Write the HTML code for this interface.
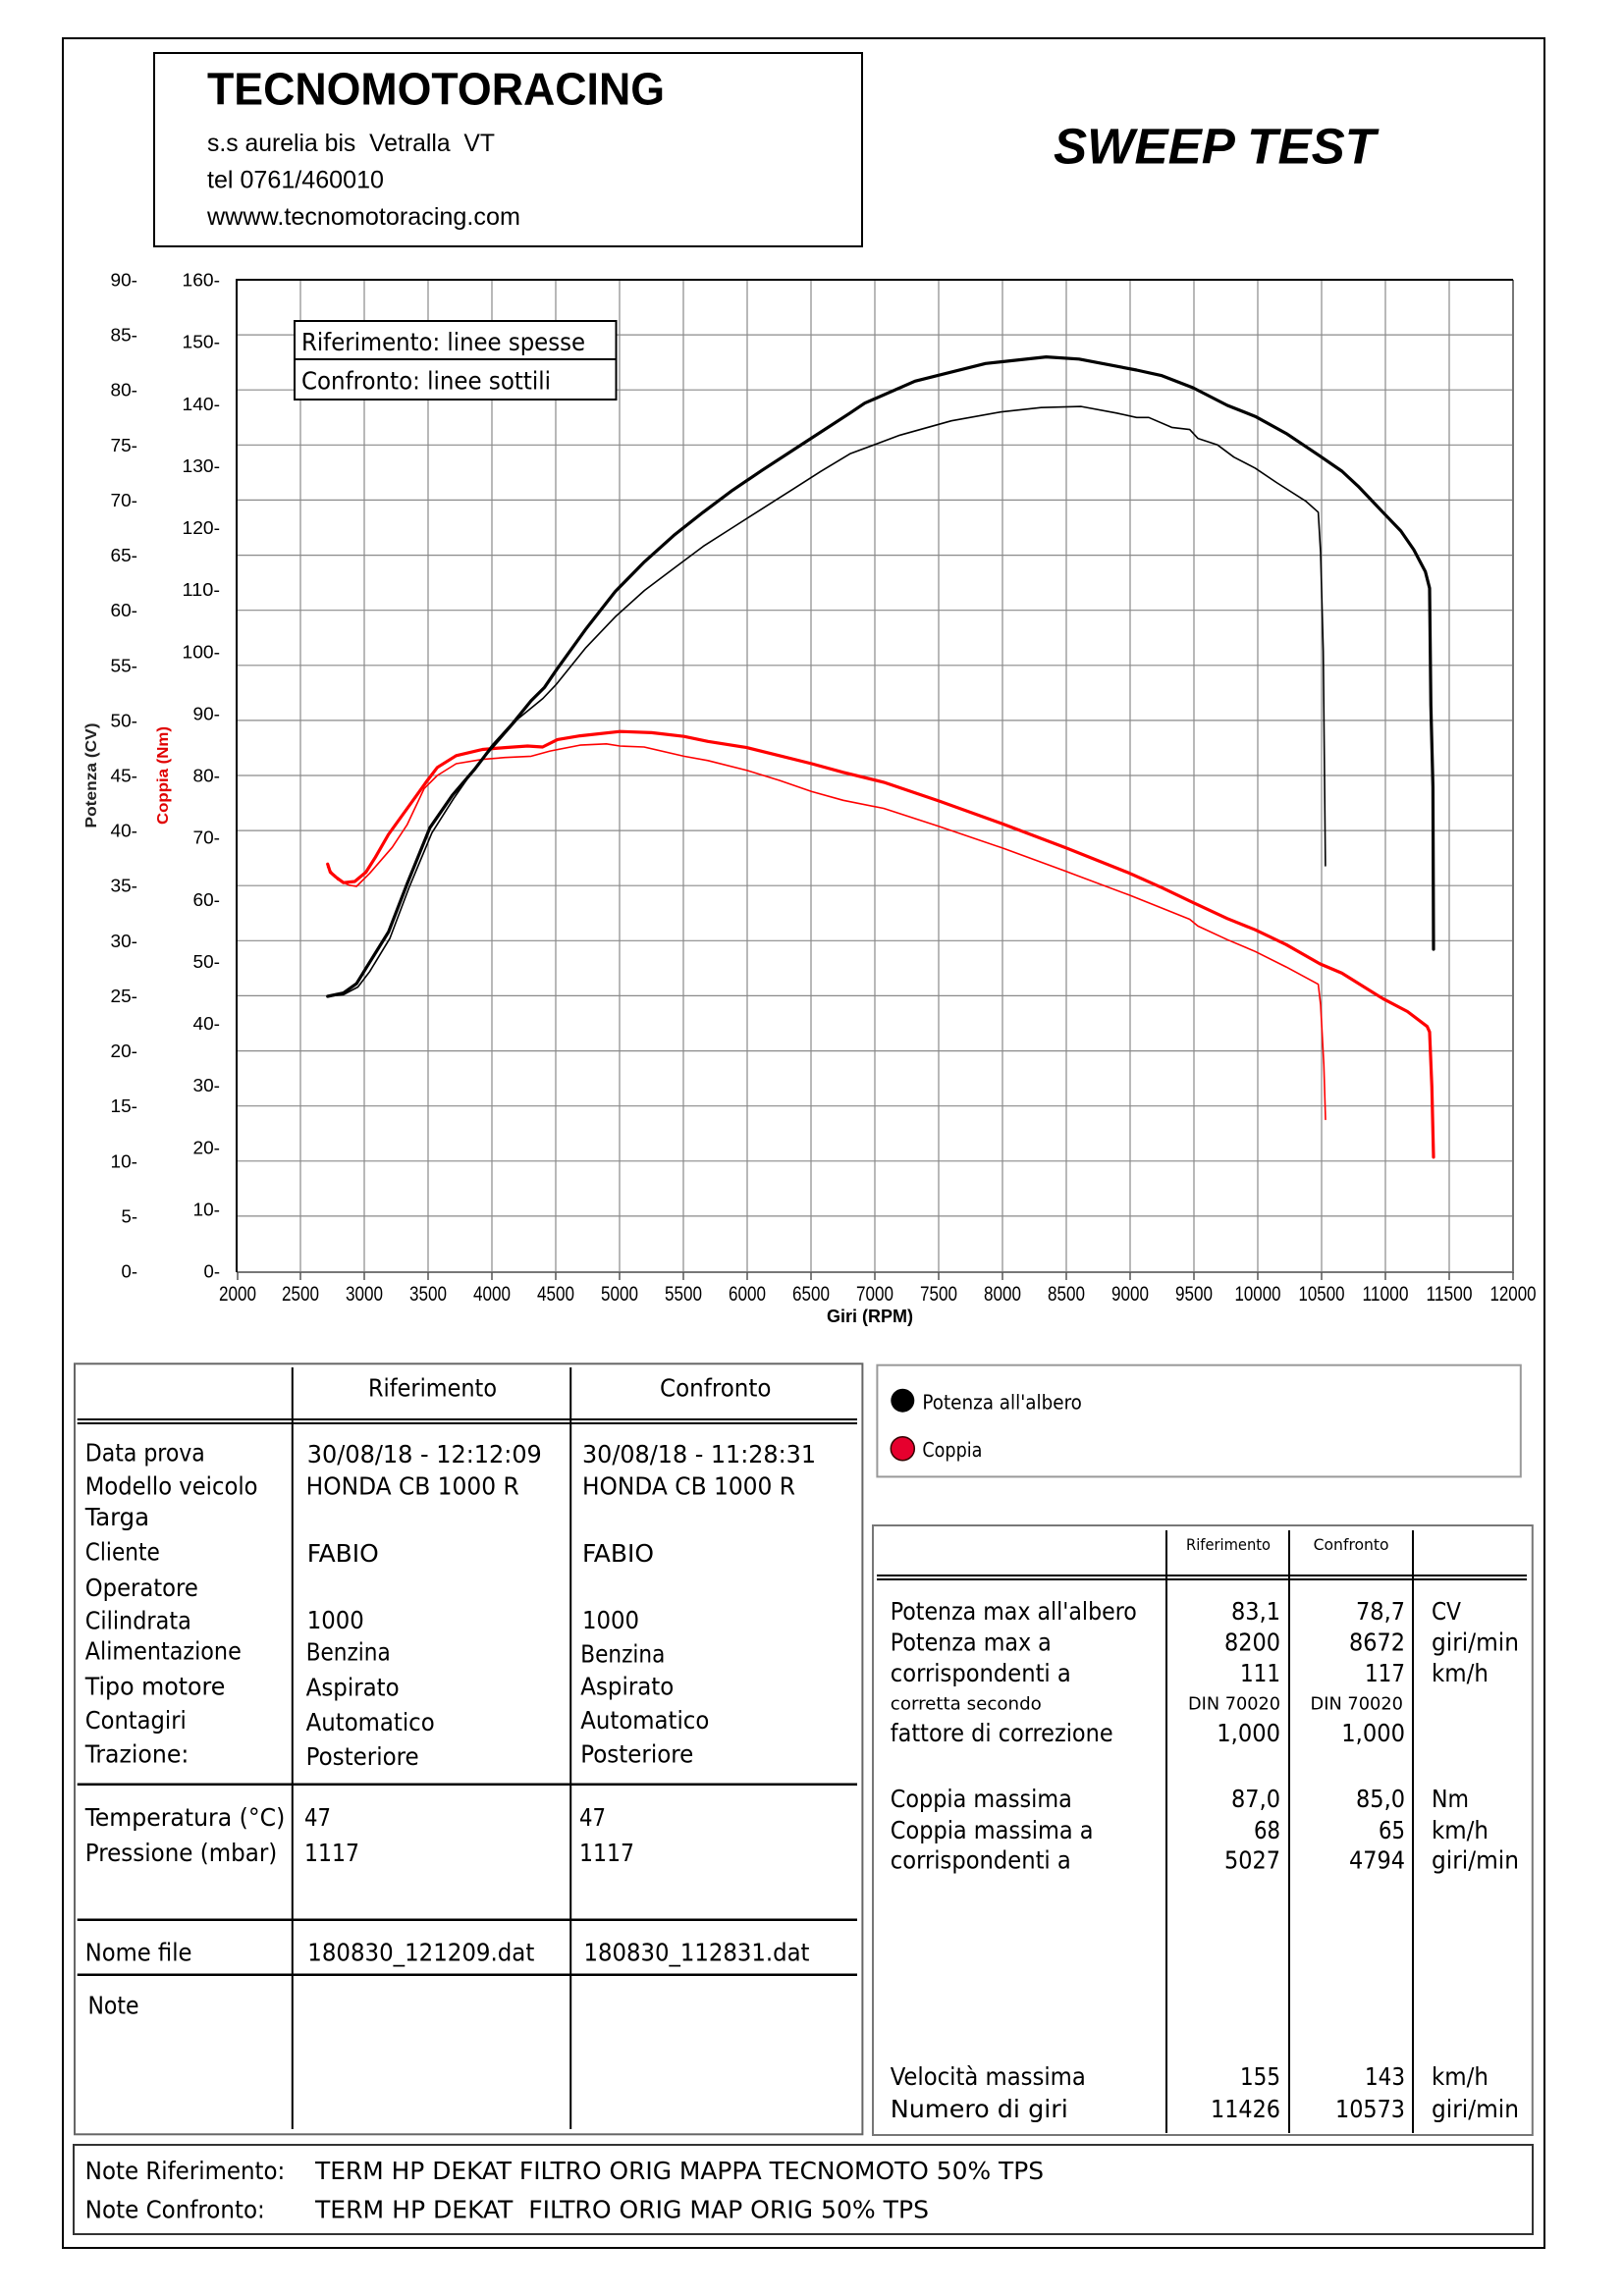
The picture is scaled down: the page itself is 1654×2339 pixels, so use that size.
<!DOCTYPE html>
<html>
<head>
<meta charset="utf-8">
<style>
html,body{margin:0;padding:0;background:#fff;}
svg{display:block;}
.hd{font-family:"Liberation Sans",sans-serif;}
.tb{font-family:"DejaVu Sans Condensed","DejaVu Sans","Liberation Sans",sans-serif;}
.ax{font-family:"Liberation Sans",sans-serif;font-size:18px;fill:#000;}
.xt{font-family:"Liberation Sans",sans-serif;font-size:21px;fill:#000;}
</style>
</head>
<body>
<svg width="1654" height="2339" viewBox="0 0 1654 2339" xmlns="http://www.w3.org/2000/svg">
<rect x="0" y="0" width="1654" height="2339" fill="#fff"/>
<!-- outer border -->
<rect x="64" y="39" width="1509" height="2251" fill="none" stroke="#000" stroke-width="2"/>
<!-- header box -->
<rect x="157" y="54" width="721" height="197" fill="none" stroke="#000" stroke-width="2"/>
<text class="hd" x="211" y="106.7" font-size="46" font-weight="bold" textLength="466" lengthAdjust="spacingAndGlyphs">TECNOMOTORACING</text>
<text class="hd" x="211" y="154" font-size="25" style="white-space:pre" textLength="293" lengthAdjust="spacingAndGlyphs">s.s aurelia bis  Vetralla  VT</text>
<text class="hd" x="211" y="191.7" font-size="25" textLength="180" lengthAdjust="spacingAndGlyphs">tel 0761/460010</text>
<text class="hd" x="211" y="229" font-size="25" textLength="319" lengthAdjust="spacingAndGlyphs">wwww.tecnomotoracing.com</text>
<text class="hd" x="1073" y="166.7" font-size="51" font-weight="bold" font-style="italic" textLength="328" lengthAdjust="spacingAndGlyphs">SWEEP TEST</text>

<!-- grid -->
<g stroke="#8a8a8a" stroke-width="1.2" fill="none">
<path d="M306 285V1295M371 285V1295M436 285V1295M501 285V1295M566 285V1295M631 285V1295M696 285V1295M761 285V1295M826 285V1295M891 285V1295M956 285V1295M1021 285V1295M1086 285V1295M1151 285V1295M1216 285V1295M1281 285V1295M1346 285V1295M1411 285V1295M1476 285V1295"/>
<path d="M241 1238.9H1541M241 1182.8H1541M241 1126.7H1541M241 1070.6H1541M241 1014.4H1541M241 958.3H1541M241 902.2H1541M241 846.1H1541M241 790H1541M241 733.9H1541M241 677.8H1541M241 621.7H1541M241 565.6H1541M241 509.4H1541M241 453.3H1541M241 397.2H1541M241 341.1H1541"/>
</g>
<!-- plot border -->
<path d="M1541 285V1296H241" fill="none" stroke="#777" stroke-width="2"/>
<path d="M241 1296V285H1541" fill="none" stroke="#000" stroke-width="2"/>
<!-- x ticks -->
<path stroke="#555" stroke-width="1.5" d="M242 1296v8M306 1296v8M371 1296v8M436 1296v8M501 1296v8M566 1296v8M631 1296v8M696 1296v8M761 1296v8M826 1296v8M891 1296v8M956 1296v8M1021 1296v8M1086 1296v8M1151 1296v8M1216 1296v8M1281 1296v8M1346 1296v8M1411 1296v8M1476 1296v8M1541 1296v8"/>
<g class="xt" text-anchor="middle">
<text x="242" y="1325" textLength="38" lengthAdjust="spacingAndGlyphs">2000</text>
<text x="306" y="1325" textLength="38" lengthAdjust="spacingAndGlyphs">2500</text>
<text x="371" y="1325" textLength="38" lengthAdjust="spacingAndGlyphs">3000</text>
<text x="436" y="1325" textLength="38" lengthAdjust="spacingAndGlyphs">3500</text>
<text x="501" y="1325" textLength="38" lengthAdjust="spacingAndGlyphs">4000</text>
<text x="566" y="1325" textLength="38" lengthAdjust="spacingAndGlyphs">4500</text>
<text x="631" y="1325" textLength="38" lengthAdjust="spacingAndGlyphs">5000</text>
<text x="696" y="1325" textLength="38" lengthAdjust="spacingAndGlyphs">5500</text>
<text x="761" y="1325" textLength="38" lengthAdjust="spacingAndGlyphs">6000</text>
<text x="826" y="1325" textLength="38" lengthAdjust="spacingAndGlyphs">6500</text>
<text x="891" y="1325" textLength="38" lengthAdjust="spacingAndGlyphs">7000</text>
<text x="956" y="1325" textLength="38" lengthAdjust="spacingAndGlyphs">7500</text>
<text x="1021" y="1325" textLength="38" lengthAdjust="spacingAndGlyphs">8000</text>
<text x="1086" y="1325" textLength="38" lengthAdjust="spacingAndGlyphs">8500</text>
<text x="1151" y="1325" textLength="38" lengthAdjust="spacingAndGlyphs">9000</text>
<text x="1216" y="1325" textLength="38" lengthAdjust="spacingAndGlyphs">9500</text>
<text x="1281" y="1325" textLength="47" lengthAdjust="spacingAndGlyphs">10000</text>
<text x="1346" y="1325" textLength="47" lengthAdjust="spacingAndGlyphs">10500</text>
<text x="1411" y="1325" textLength="47" lengthAdjust="spacingAndGlyphs">11000</text>
<text x="1476" y="1325" textLength="47" lengthAdjust="spacingAndGlyphs">11500</text>
<text x="1541" y="1325" textLength="47" lengthAdjust="spacingAndGlyphs">12000</text>
</g>
<text class="hd" x="842" y="1347" font-size="18" font-weight="bold" textLength="88" lengthAdjust="spacingAndGlyphs">Giri (RPM)</text>

<!-- CV labels -->
<g class="ax" text-anchor="end">
<text x="140" y="291.5" textLength="27.5" lengthAdjust="spacingAndGlyphs">90-</text>
<text x="140" y="347.6" textLength="27.5" lengthAdjust="spacingAndGlyphs">85-</text>
<text x="140" y="403.7" textLength="27.5" lengthAdjust="spacingAndGlyphs">80-</text>
<text x="140" y="459.8" textLength="27.5" lengthAdjust="spacingAndGlyphs">75-</text>
<text x="140" y="515.9" textLength="27.5" lengthAdjust="spacingAndGlyphs">70-</text>
<text x="140" y="572.1" textLength="27.5" lengthAdjust="spacingAndGlyphs">65-</text>
<text x="140" y="628.2" textLength="27.5" lengthAdjust="spacingAndGlyphs">60-</text>
<text x="140" y="684.3" textLength="27.5" lengthAdjust="spacingAndGlyphs">55-</text>
<text x="140" y="740.4" textLength="27.5" lengthAdjust="spacingAndGlyphs">50-</text>
<text x="140" y="796.5" textLength="27.5" lengthAdjust="spacingAndGlyphs">45-</text>
<text x="140" y="852.6" textLength="27.5" lengthAdjust="spacingAndGlyphs">40-</text>
<text x="140" y="908.7" textLength="27.5" lengthAdjust="spacingAndGlyphs">35-</text>
<text x="140" y="964.8" textLength="27.5" lengthAdjust="spacingAndGlyphs">30-</text>
<text x="140" y="1020.9" textLength="27.5" lengthAdjust="spacingAndGlyphs">25-</text>
<text x="140" y="1077.1" textLength="27.5" lengthAdjust="spacingAndGlyphs">20-</text>
<text x="140" y="1133.2" textLength="27.5" lengthAdjust="spacingAndGlyphs">15-</text>
<text x="140" y="1189.3" textLength="27.5" lengthAdjust="spacingAndGlyphs">10-</text>
<text x="140" y="1245.4" textLength="16.5" lengthAdjust="spacingAndGlyphs">5-</text>
<text x="140" y="1301.5" textLength="16.5" lengthAdjust="spacingAndGlyphs">0-</text>
</g>
<!-- Nm labels -->
<g class="ax" text-anchor="end">
<text x="224" y="291.5" textLength="38.5" lengthAdjust="spacingAndGlyphs">160-</text>
<text x="224" y="354.6" textLength="38.5" lengthAdjust="spacingAndGlyphs">150-</text>
<text x="224" y="417.8" textLength="38.5" lengthAdjust="spacingAndGlyphs">140-</text>
<text x="224" y="480.9" textLength="38.5" lengthAdjust="spacingAndGlyphs">130-</text>
<text x="224" y="544" textLength="38.5" lengthAdjust="spacingAndGlyphs">120-</text>
<text x="224" y="607.1" textLength="38.5" lengthAdjust="spacingAndGlyphs">110-</text>
<text x="224" y="670.3" textLength="38.5" lengthAdjust="spacingAndGlyphs">100-</text>
<text x="224" y="733.4" textLength="27.5" lengthAdjust="spacingAndGlyphs">90-</text>
<text x="224" y="796.5" textLength="27.5" lengthAdjust="spacingAndGlyphs">80-</text>
<text x="224" y="859.6" textLength="27.5" lengthAdjust="spacingAndGlyphs">70-</text>
<text x="224" y="922.8" textLength="27.5" lengthAdjust="spacingAndGlyphs">60-</text>
<text x="224" y="985.9" textLength="27.5" lengthAdjust="spacingAndGlyphs">50-</text>
<text x="224" y="1049" textLength="27.5" lengthAdjust="spacingAndGlyphs">40-</text>
<text x="224" y="1112.1" textLength="27.5" lengthAdjust="spacingAndGlyphs">30-</text>
<text x="224" y="1175.3" textLength="27.5" lengthAdjust="spacingAndGlyphs">20-</text>
<text x="224" y="1238.4" textLength="27.5" lengthAdjust="spacingAndGlyphs">10-</text>
<text x="224" y="1301.5" textLength="16.5" lengthAdjust="spacingAndGlyphs">0-</text>
</g>
<!-- rotated axis titles -->
<text class="hd" transform="translate(98,790) rotate(-90)" text-anchor="middle" font-size="16" font-weight="bold" fill="#222" textLength="107" lengthAdjust="spacingAndGlyphs">Potenza (CV)</text>
<text class="hd" transform="translate(171,790) rotate(-90)" text-anchor="middle" font-size="16" font-weight="bold" fill="#e00000" textLength="100" lengthAdjust="spacingAndGlyphs">Coppia (Nm)</text>

<!-- curves -->
<g fill="none" stroke-linejoin="round" stroke-linecap="round">
<polyline stroke="#ff0000" stroke-width="1.6" points="333.7,883.4 343.7,896 355.4,901.7 363.1,903 376.5,889.7 399.5,863.2 414.8,839.9 432,803.3 445.4,790 464.6,778 491.4,773.6 514.3,771.7 541,770.4 560.2,765.1 590.8,759.1 617.6,757.8 631.4,760 656,761 696.5,770.4 721,774.8 761,784.9 793.8,795 826.7,806.4 858.8,815.3 900,823.5 956,841.8 1021,863.9 1086,887.8 1150,911.8 1183.4,925.1 1211.7,936.5 1220,943.4 1250.1,957.3 1278.4,969.3 1310,985.1 1342.6,1002.7 1345,1023.6 1348.3,1084.8 1350,1140.3"/>
<polyline stroke="#ff0000" stroke-width="3.2" points="333.7,880.3 336.4,888.5 342.1,893.5 349.8,899.2 361.3,898 372.7,888.5 382.3,873.3 395.7,850 414.8,823.5 433.9,796.9 445.4,781.8 464.6,769.8 491.4,763.5 514.3,761.6 537.3,760 552.6,761 567.8,753.4 590.8,749.6 631.4,745.2 663.6,746.4 696.5,750.2 721,755.3 760.7,761.6 793.8,769.8 826.7,778 858.8,786.8 900,796.9 956,815.9 1021,839.2 1086,863.9 1150,889.4 1183.4,904.3 1215,919.4 1250.1,935.8 1278.4,947.2 1310,962.3 1344.3,981.9 1366.7,991.4 1408.4,1017.3 1433.5,1030.5 1453.5,1045.7 1456,1051.3 1458.3,1106.9 1460,1178.8"/>
<polyline stroke="#000" stroke-width="1.6" points="333.7,1015 349.8,1013.3 364.5,1005.5 376.5,989.8 397,956.1 416.5,904.5 439.9,848.4 462,813.6 485.4,779.9 503.6,759.7 527,732.8 553,711.5 566.8,696.9 596.7,659.8 626.6,628.4 656.4,601.5 686.3,579 716.2,556.6 746.1,537.5 776,518.4 805.9,499.4 835.8,480.3 865.7,462.3 916.6,443.3 969,428.7 1019.1,419.7 1060.3,415.2 1101.2,414.1 1137.2,420.8 1157.6,425.3 1170,425.3 1193.4,435.4 1211.7,437.6 1220,446.6 1240.1,453.3 1256.7,465.7 1278.4,476.9 1300,491.5 1330,510.6 1342.6,521.8 1345,563.3 1347.7,663.2 1349.9,882"/>
<polyline stroke="#000" stroke-width="3.2" points="333.7,1015 349.8,1011.6 363.1,1002.1 372.7,986.4 395.7,949.4 414.8,900 437.8,843.3 460.7,810.2 483.7,783.3 501.7,759.7 521.9,737.3 541,713.7 554.6,700.2 566.8,682.3 596.7,640.8 626.6,602.6 656.4,572.3 686.3,545.4 716.2,521.8 746.1,499.4 776,479.2 820.8,450 865.7,420.8 880.7,410.7 931.9,388.3 1003.8,370.3 1065.5,363.6 1099,365.8 1157.6,377 1183.4,382.7 1215,395 1250.1,413 1278.4,424.2 1310,441.6 1344.3,464.6 1366.7,480 1383.3,495.4 1408.4,521.8 1426.7,540.9 1439.9,560 1451.7,582.4 1456,599.2 1457.3,718.5 1459.4,801.7 1460,967"/>
</g>

<!-- in-plot legend -->
<rect x="300" y="327" width="327.5" height="80" fill="#fff" stroke="#000" stroke-width="2"/>
<line x1="300" y1="366" x2="627.5" y2="366" stroke="#000" stroke-width="2"/>
<text class="tb" x="307" y="357" font-size="25" textLength="289" lengthAdjust="spacingAndGlyphs">Riferimento: linee spesse</text>
<text class="tb" x="307" y="396.7" font-size="25" textLength="254" lengthAdjust="spacingAndGlyphs">Confronto: linee sottili</text>

<!-- LEFT TABLE -->
<rect x="76" y="1389.3" width="802.4" height="785" fill="none" stroke="#666" stroke-width="2"/>
<g stroke="#000" stroke-width="2">
<line x1="297.8" y1="1393" x2="297.8" y2="2169"/>
<line x1="581.2" y1="1393" x2="581.2" y2="2169"/>
<line x1="78.7" y1="1446" x2="873" y2="1446"/>
<line x1="78.7" y1="1450" x2="873" y2="1450"/>
<line x1="78.7" y1="1817.7" x2="873" y2="1817.7" stroke-width="2.5"/>
<line x1="78.7" y1="1955.7" x2="873" y2="1955.7" stroke-width="2.5"/>
<line x1="78.7" y1="2011.7" x2="873" y2="2011.7" stroke-width="2.5"/>
</g>
<g class="tb" font-size="25" fill="#000">
<text x="375" y="1422.7" textLength="131" lengthAdjust="spacingAndGlyphs">Riferimento</text>
<text x="672" y="1422.7" textLength="113.5" lengthAdjust="spacingAndGlyphs">Confronto</text>

<text x="86.8" y="1488.3" textLength="122" lengthAdjust="spacingAndGlyphs">Data prova</text>
<text x="86.8" y="1522.7" textLength="175.7" lengthAdjust="spacingAndGlyphs">Modello veicolo</text>
<text x="86.8" y="1554" textLength="65.3" lengthAdjust="spacingAndGlyphs">Targa</text>
<text x="86.8" y="1589.3" textLength="76" lengthAdjust="spacingAndGlyphs">Cliente</text>
<text x="86.8" y="1626" textLength="115" lengthAdjust="spacingAndGlyphs">Operatore</text>
<text x="86.8" y="1659.3" textLength="108" lengthAdjust="spacingAndGlyphs">Cilindrata</text>
<text x="86.8" y="1690.7" textLength="159" lengthAdjust="spacingAndGlyphs">Alimentazione</text>
<text x="86.8" y="1726.7" textLength="142.5" lengthAdjust="spacingAndGlyphs">Tipo motore</text>
<text x="86.8" y="1761" textLength="103" lengthAdjust="spacingAndGlyphs">Contagiri</text>
<text x="86.8" y="1795.7" textLength="105.5" lengthAdjust="spacingAndGlyphs">Trazione:</text>

<text x="312.8" y="1490" textLength="239" lengthAdjust="spacingAndGlyphs">30/08/18 - 12:12:09</text>
<text x="311.7" y="1522.7" textLength="217" lengthAdjust="spacingAndGlyphs">HONDA CB 1000 R</text>
<text x="312.8" y="1591" textLength="73" lengthAdjust="spacingAndGlyphs">FABIO</text>
<text x="312.8" y="1659" textLength="58" lengthAdjust="spacingAndGlyphs">1000</text>
<text x="311.7" y="1691.7" textLength="86" lengthAdjust="spacingAndGlyphs">Benzina</text>
<text x="311.7" y="1727.7" textLength="95" lengthAdjust="spacingAndGlyphs">Aspirato</text>
<text x="311.7" y="1763" textLength="131" lengthAdjust="spacingAndGlyphs">Automatico</text>
<text x="311.7" y="1798" textLength="115" lengthAdjust="spacingAndGlyphs">Posteriore</text>

<text x="593" y="1490" textLength="238" lengthAdjust="spacingAndGlyphs">30/08/18 - 11:28:31</text>
<text x="593" y="1522.7" textLength="217" lengthAdjust="spacingAndGlyphs">HONDA CB 1000 R</text>
<text x="593" y="1591" textLength="73" lengthAdjust="spacingAndGlyphs">FABIO</text>
<text x="593" y="1659" textLength="58" lengthAdjust="spacingAndGlyphs">1000</text>
<text x="591.3" y="1693.3" textLength="86" lengthAdjust="spacingAndGlyphs">Benzina</text>
<text x="591.3" y="1726.7" textLength="95" lengthAdjust="spacingAndGlyphs">Aspirato</text>
<text x="591.3" y="1761" textLength="131" lengthAdjust="spacingAndGlyphs">Automatico</text>
<text x="591.3" y="1795.7" textLength="115" lengthAdjust="spacingAndGlyphs">Posteriore</text>

<text x="86.8" y="1860" textLength="203.5" lengthAdjust="spacingAndGlyphs">Temperatura (°C)</text>
<text x="86.8" y="1896" textLength="195.5" lengthAdjust="spacingAndGlyphs">Pressione (mbar)</text>
<text x="310" y="1860" textLength="27" lengthAdjust="spacingAndGlyphs">47</text>
<text x="310" y="1896" textLength="56" lengthAdjust="spacingAndGlyphs">1117</text>
<text x="590" y="1860" textLength="27" lengthAdjust="spacingAndGlyphs">47</text>
<text x="590" y="1896" textLength="56" lengthAdjust="spacingAndGlyphs">1117</text>

<text x="86.8" y="1997.7" textLength="108.7" lengthAdjust="spacingAndGlyphs">Nome file</text>
<text x="313.3" y="1997.7" textLength="231" lengthAdjust="spacingAndGlyphs">180830_121209.dat</text>
<text x="594.5" y="1997.7" textLength="230" lengthAdjust="spacingAndGlyphs">180830_112831.dat</text>
<text x="89.5" y="2051.7" textLength="52" lengthAdjust="spacingAndGlyphs">Note</text>
</g>

<!-- NOTES BOX -->
<rect x="75" y="2185" width="1486" height="91" fill="none" stroke="#333" stroke-width="2"/>
<g class="tb" font-size="25" fill="#000">
<text x="86.8" y="2220" textLength="203.5" lengthAdjust="spacingAndGlyphs">Note Riferimento:</text>
<text x="321" y="2220" textLength="742" lengthAdjust="spacingAndGlyphs">TERM HP DEKAT FILTRO ORIG MAPPA TECNOMOTO 50% TPS</text>
<text x="86.8" y="2259.3" textLength="183" lengthAdjust="spacingAndGlyphs">Note Confronto:</text>
<text x="321" y="2259.3" style="white-space:pre" textLength="625" lengthAdjust="spacingAndGlyphs">TERM HP DEKAT  FILTRO ORIG MAP ORIG 50% TPS</text>
</g>

<!-- RIGHT LEGEND -->
<rect x="893.4" y="1390.7" width="655.4" height="113.7" fill="none" stroke="#999" stroke-width="2"/>
<circle cx="919.3" cy="1426.7" r="12" fill="#000"/>
<circle cx="919.3" cy="1475.7" r="12" fill="#e6002e" stroke="#300" stroke-width="1.5"/>
<g class="tb" font-size="20" fill="#000">
<text x="939.4" y="1435.5" textLength="162.5" lengthAdjust="spacingAndGlyphs">Potenza all'albero</text>
<text x="939.4" y="1484" textLength="61" lengthAdjust="spacingAndGlyphs">Coppia</text>
</g>

<!-- RIGHT TABLE -->
<rect x="889" y="1554" width="671.8" height="621" fill="none" stroke="#777" stroke-width="2"/>
<g stroke="#000" stroke-width="2">
<line x1="1188" y1="1559" x2="1188" y2="2173"/>
<line x1="1313" y1="1559" x2="1313" y2="2173"/>
<line x1="1439" y1="1559" x2="1439" y2="2173"/>
<line x1="893" y1="1605" x2="1555" y2="1605"/>
<line x1="893" y1="1609" x2="1555" y2="1609"/>
</g>
<g class="tb" font-size="16" fill="#000">
<text x="1208" y="1579" textLength="86" lengthAdjust="spacingAndGlyphs">Riferimento</text>
<text x="1337.6" y="1579" textLength="77" lengthAdjust="spacingAndGlyphs">Confronto</text>
</g>
<g class="tb" font-size="25" fill="#000">
<text x="906.8" y="1649.8" textLength="251" lengthAdjust="spacingAndGlyphs">Potenza max all'albero</text>
<text x="906.8" y="1681.6" textLength="164" lengthAdjust="spacingAndGlyphs">Potenza max a</text>
<text x="906.8" y="1713" textLength="184" lengthAdjust="spacingAndGlyphs">corrispondenti a</text>
<text x="906.8" y="1774" textLength="226.8" lengthAdjust="spacingAndGlyphs">fattore di correzione</text>
<text x="906.8" y="1841" textLength="185" lengthAdjust="spacingAndGlyphs">Coppia massima</text>
<text x="906.8" y="1873" textLength="206.7" lengthAdjust="spacingAndGlyphs">Coppia massima a</text>
<text x="906.8" y="1903.5" textLength="184" lengthAdjust="spacingAndGlyphs">corrispondenti a</text>
<text x="906.8" y="2124" textLength="199" lengthAdjust="spacingAndGlyphs">Velocità massima</text>
<text x="906.8" y="2157" textLength="181" lengthAdjust="spacingAndGlyphs">Numero di giri</text>

<text x="1458" y="1649.8" textLength="30" lengthAdjust="spacingAndGlyphs">CV</text>
<text x="1458" y="1681.6" textLength="89" lengthAdjust="spacingAndGlyphs">giri/min</text>
<text x="1458" y="1713" textLength="58" lengthAdjust="spacingAndGlyphs">km/h</text>
<text x="1458" y="1841" textLength="38" lengthAdjust="spacingAndGlyphs">Nm</text>
<text x="1458" y="1873" textLength="58" lengthAdjust="spacingAndGlyphs">km/h</text>
<text x="1458" y="1903.5" textLength="89" lengthAdjust="spacingAndGlyphs">giri/min</text>
<text x="1458" y="2124" textLength="58" lengthAdjust="spacingAndGlyphs">km/h</text>
<text x="1458" y="2157" textLength="89" lengthAdjust="spacingAndGlyphs">giri/min</text>
</g>
<g class="tb" font-size="25" fill="#000" text-anchor="end">
<text x="1304" y="1649.8" textLength="50" lengthAdjust="spacingAndGlyphs">83,1</text>
<text x="1304" y="1681.6" textLength="57" lengthAdjust="spacingAndGlyphs">8200</text>
<text x="1304" y="1713" textLength="41" lengthAdjust="spacingAndGlyphs">111</text>
<text x="1304" y="1774" textLength="64.7" lengthAdjust="spacingAndGlyphs">1,000</text>
<text x="1304" y="1841" textLength="50" lengthAdjust="spacingAndGlyphs">87,0</text>
<text x="1304" y="1873" textLength="27" lengthAdjust="spacingAndGlyphs">68</text>
<text x="1304" y="1903.5" textLength="57" lengthAdjust="spacingAndGlyphs">5027</text>
<text x="1304" y="2124" textLength="41" lengthAdjust="spacingAndGlyphs">155</text>
<text x="1304" y="2157" textLength="71" lengthAdjust="spacingAndGlyphs">11426</text>

<text x="1431" y="1649.8" textLength="50" lengthAdjust="spacingAndGlyphs">78,7</text>
<text x="1431" y="1681.6" textLength="57" lengthAdjust="spacingAndGlyphs">8672</text>
<text x="1431" y="1713" textLength="41" lengthAdjust="spacingAndGlyphs">117</text>
<text x="1431" y="1774" textLength="64.7" lengthAdjust="spacingAndGlyphs">1,000</text>
<text x="1431" y="1841" textLength="50" lengthAdjust="spacingAndGlyphs">85,0</text>
<text x="1431" y="1873" textLength="27" lengthAdjust="spacingAndGlyphs">65</text>
<text x="1431" y="1903.5" textLength="57" lengthAdjust="spacingAndGlyphs">4794</text>
<text x="1431" y="2124" textLength="41" lengthAdjust="spacingAndGlyphs">143</text>
<text x="1431" y="2157" textLength="71" lengthAdjust="spacingAndGlyphs">10573</text>
</g>
<g class="tb" font-size="18" fill="#000">
<text x="906.8" y="1741.7" textLength="154" lengthAdjust="spacingAndGlyphs">corretta secondo</text>
<text x="1304" y="1741.7" text-anchor="end" textLength="94" lengthAdjust="spacingAndGlyphs">DIN 70020</text>
<text x="1429" y="1741.7" text-anchor="end" textLength="94.5" lengthAdjust="spacingAndGlyphs">DIN 70020</text>
</g>
</svg>
</body>
</html>
